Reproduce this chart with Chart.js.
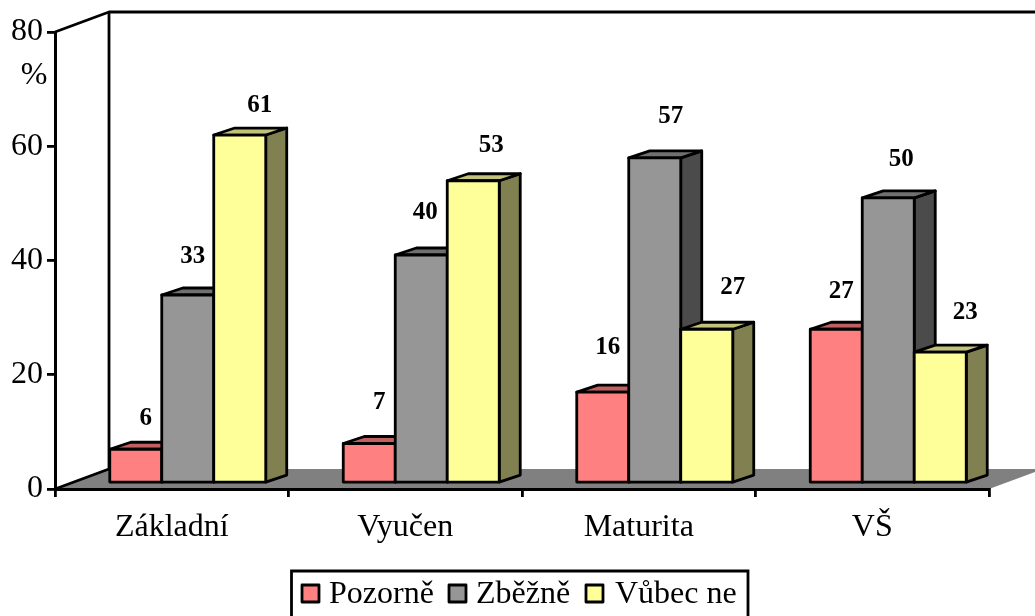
<!DOCTYPE html>
<html>
<head>
<meta charset="utf-8">
<title>Graf</title>
<script src="https://cdn.jsdelivr.net/npm/chart.js@4"></script>
<style>
  html, body { margin: 0; padding: 0; background: #fff; overflow: hidden; }
  #wrap { width: 1035px; height: 616px; }
</style>
</head>
<body>
<div id="wrap"><canvas id="graf" width="1035" height="616"></canvas></div>
<script>
var kategorie = ["Základní", "Vyučen", "Maturita", "VŠ"];
var pozorne = [6, 7, 16, 27];
var zbezne = [33, 40, 57, 50];
var vubecNe = [61, 53, 27, 23];
var yTicks = [0, 20, 40, 60, 80];

var serif = "'Liberation Serif', 'Times New Roman', serif";

// barvy: predek, bok, vrsek
var barvy = [
  { front: "#FF8080", side: "#804040", top: "#C06060" },
  { front: "#969696", side: "#4B4B4B", top: "#707070" },
  { front: "#FFFF99", side: "#808050", top: "#C2C27A" }
];

// rucni posun popisku vuci stredu a vrsku sloupce
var posunPopisku = [
  [[10, -31], [10, -41], [5, -45], [5, -38]],
  [[5, -38], [4, -42], [16, -41], [13, -38]],
  [[20, -29], [18, -35], [26, -42], [25, -40]]
];

var hloubka = { x: 21, y: -7 };   // hloubka sloupce
var zed = { x: 54, y: -20 };      // hloubka podlahy
var posun = { x: 16, y: -5.5 };   // sloupce stoji na podlaze, ne na ose

function polygon(ctx, body, vypln, cara) {
  ctx.beginPath();
  ctx.moveTo(body[0][0], body[0][1]);
  for (var i = 1; i < body.length; i++) {
    ctx.lineTo(body[i][0], body[i][1]);
  }
  ctx.closePath();
  if (vypln) {
    ctx.fillStyle = vypln;
    ctx.fill();
  }
  if (cara) {
    ctx.strokeStyle = "#000";
    ctx.lineWidth = 2.8;
    ctx.lineJoin = "round";
    ctx.stroke();
  }
}

var scena3d = {
  id: "scena3d",
  // podlaha a zadni hrany, pod osami
  beforeDraw: function(chart) {
    var ctx = chart.ctx;
    var a = chart.chartArea;
    ctx.save();
    ctx.fillStyle = "#fff";
    ctx.fillRect(0, 0, chart.width, chart.height);
    polygon(ctx, [
      [a.left, a.bottom],
      [a.left + zed.x, a.bottom + zed.y],
      [a.right + zed.x, a.bottom + zed.y],
      [a.right, a.bottom]
    ], "#808080", false);
    ctx.strokeStyle = "#000";
    ctx.lineWidth = 2.8;
    ctx.lineJoin = "round";
    ctx.beginPath();
    ctx.moveTo(a.left, a.bottom);
    ctx.lineTo(a.left + zed.x, a.bottom + zed.y);
    ctx.moveTo(a.left + zed.x, a.bottom + zed.y);
    ctx.lineTo(a.left + zed.x, a.top + zed.y);
    ctx.moveTo(a.left, a.top);
    ctx.lineTo(a.left + zed.x, a.top + zed.y);
    ctx.lineTo(a.right + zed.x, a.top + zed.y);
    ctx.stroke();
    ctx.restore();
  },
  // sloupce kreslime sami z elementu chart.js
  beforeDatasetsDraw: function(chart) {
    var ctx = chart.ctx;
    ctx.save();
    kategorie.forEach(function(k, i) {
      chart.data.datasets.forEach(function(ds, d) {
        var el = chart.getDatasetMeta(d).data[i];
        var l = el.x - el.width / 2 + posun.x;
        var r = el.x + el.width / 2 + posun.x;
        var t = el.y + posun.y;
        var b = el.base + posun.y;
        var c = barvy[d];
        polygon(ctx, [[r, t], [r + hloubka.x, t + hloubka.y], [r + hloubka.x, b + hloubka.y], [r, b]], c.side, true);
        polygon(ctx, [[l, t], [l + hloubka.x, t + hloubka.y], [r + hloubka.x, t + hloubka.y], [r, t]], c.top, true);
        polygon(ctx, [[l, t], [r, t], [r, b], [l, b]], c.front, true);
      });
    });
    // popisky hodnot
    ctx.fillStyle = "#000";
    ctx.font = "bold 25px " + serif;
    ctx.textAlign = "center";
    ctx.textBaseline = "middle";
    chart.data.datasets.forEach(function(ds, d) {
      chart.getDatasetMeta(d).data.forEach(function(el, i) {
        var p = posunPopisku[d][i];
        ctx.fillText(String(ds.data[i]), el.x + posun.x + p[0], el.y + posun.y + p[1]);
      });
    });
    ctx.restore();
    return false;
  },
  // jednotka a legenda
  afterDraw: function(chart) {
    var ctx = chart.ctx;
    ctx.save();
    ctx.fillStyle = "#000";
    ctx.font = "32px " + serif;
    ctx.textAlign = "center";
    ctx.textBaseline = "middle";
    ctx.fillText("%", 34, 76);

    ctx.strokeStyle = "#000";
    ctx.lineWidth = 2.8;
    ctx.beginPath();
    ctx.moveTo(291.5, 620);
    ctx.lineTo(291.5, 571);
    ctx.lineTo(748, 571);
    ctx.lineTo(748, 620);
    ctx.stroke();

    var xBox = [302, 449, 586];
    var xText = [329, 476, 615];
    ctx.textAlign = "left";
    chart.data.datasets.forEach(function(ds, d) {
      polygon(ctx, [[xBox[d], 585], [xBox[d] + 17, 585], [xBox[d] + 17, 602], [xBox[d], 602]], barvy[d].front, true);
      ctx.fillStyle = "#000";
      ctx.fillText(ds.label, xText[d], 595);
    });
    ctx.restore();
  }
};

new Chart(document.getElementById("graf"), {
  type: "bar",
  data: {
    labels: kategorie,
    datasets: [
      { label: "Pozorně", data: pozorne, backgroundColor: barvy[0].front },
      { label: "Zběžně", data: zbezne, backgroundColor: barvy[1].front },
      { label: "Vůbec ne", data: vubecNe, backgroundColor: barvy[2].front }
    ]
  },
  plugins: [scena3d],
  options: {
    responsive: false,
    animation: false,
    layout: { padding: { top: 32, right: 46, left: 0, bottom: 0 } },
    datasets: { bar: { categoryPercentage: 0.668, barPercentage: 1 } },
    plugins: { legend: { display: false }, tooltip: { enabled: false } },
    scales: {
      x: {
        afterFit: function(s) { s.height = 127; },
        border: { color: "#000", width: 3 },
        grid: { drawOnChartArea: false, color: "#000", lineWidth: 2.8, tickLength: 8 },
        ticks: { color: "#000", padding: 11, maxRotation: 0, font: { family: serif, size: 32 } }
      },
      y: {
        min: 0,
        max: 80,
        afterFit: function(s) { s.width = 55; },
        afterBuildTicks: function(s) {
          s.ticks = yTicks.map(function(v) { return { value: v }; });
        },
        border: { color: "#000", width: 3 },
        grid: { drawOnChartArea: false, color: "#000", lineWidth: 2.8, tickLength: 8 },
        ticks: { color: "#000", padding: 4, font: { family: serif, size: 32 } }
      }
    }
  }
});
</script>
</body>
</html>
